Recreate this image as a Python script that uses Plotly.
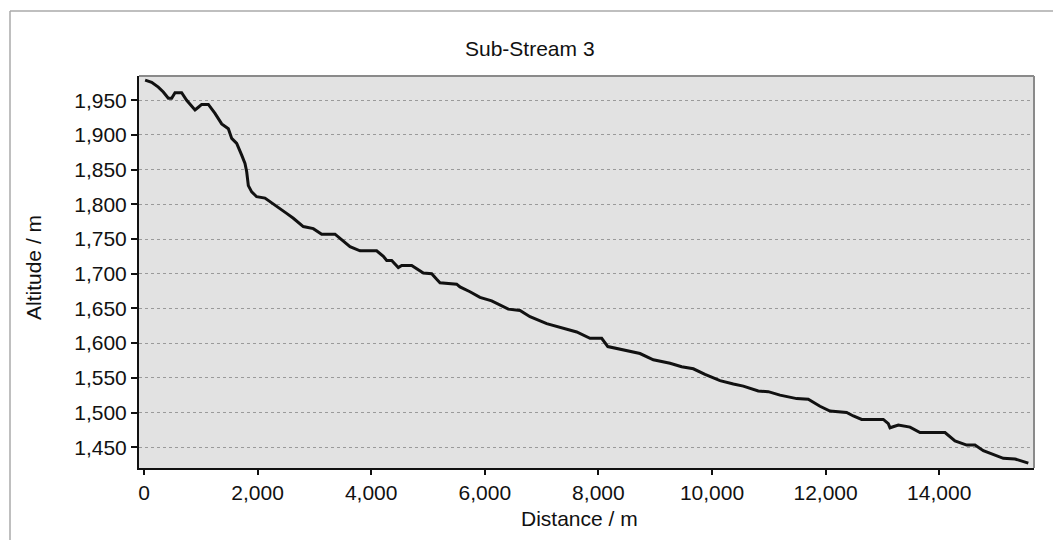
import plotly.graph_objects as go

distance = [20, 135, 252, 340, 428, 487, 546, 663, 751, 898, 957, 1015, 1133, 1250, 1368, 1485,
            1544, 1632, 1720, 1778, 1808, 1837, 1896, 1984, 2130, 2276, 2394, 2511, 2629, 2805,
            2981, 3128, 3363, 3627, 3803, 4096, 4214, 4273, 4361, 4477, 4537, 4713, 4918, 5065,
            5153, 5211, 5505, 5563, 5739, 5915, 6121, 6268, 6414, 6620, 6796, 7090, 7383, 7618,
            7852, 8058, 8166, 8462, 8732, 8967, 9261, 9466, 9671, 9877, 10141, 10376, 10551,
            10815, 10991, 11197, 11491, 11695, 11901, 12077, 12370, 12488, 12635, 13016, 13104,
            13134, 13280, 13486, 13662, 14102, 14278, 14484, 14630, 14777, 14953, 15129, 15335,
            15569]
altitude = [1979, 1976, 1969, 1962, 1953, 1953, 1961, 1961, 1950, 1936, 1940, 1944, 1944, 1931,
            1916, 1909, 1895, 1888, 1871, 1859, 1847, 1827, 1818, 1811, 1809, 1801, 1794, 1787,
            1780, 1768, 1765, 1757, 1757, 1739, 1733, 1733, 1725, 1719, 1719, 1709, 1712, 1712,
            1701, 1700, 1692, 1687, 1685, 1681, 1674, 1666, 1661, 1655, 1649, 1647, 1638, 1628,
            1621, 1616, 1607, 1607, 1595, 1590, 1585, 1576, 1571, 1566, 1563, 1555, 1546, 1541,
            1538, 1531, 1530, 1525, 1520, 1519, 1509, 1502, 1500, 1495, 1490, 1490, 1484, 1478,
            1482, 1479, 1471, 1471, 1459, 1453, 1453, 1445, 1440, 1434, 1433, 1427]

x_ticks = [0, 2000, 4000, 6000, 8000, 10000, 12000, 14000]
y_ticks = [1450, 1500, 1550, 1600, 1650, 1700, 1750, 1800, 1850, 1900, 1950]

title_text = "Sub-Stream 3"
x_title = "Distance / m"
y_title = "Altitude / m"

FONT = "Liberation Sans, Arial, sans-serif"
W, H = 1053, 540
L, R, T, B = 139, 19, 76, 72
pw, ph = W - L - R, H - T - B


def px_x(p):
    return (p - L) / pw


def px_y(p):
    return (H - B - p) / ph


fig = go.Figure()
fig.add_trace(go.Scatter(x=distance, y=altitude, mode="lines",
                         line=dict(color="#111111", width=3), showlegend=False,
                         hoverinfo="x+y"))

fig.update_layout(
    width=W, height=H,
    margin=dict(l=L, r=R, t=T, b=B),
    paper_bgcolor="white",
    plot_bgcolor="#e2e2e2",
    font=dict(family=FONT, size=21, color="#111111"),
    xaxis=dict(range=[-88, 15669], tickvals=x_ticks, tickformat=",",
               showgrid=False, zeroline=False, showline=True, linecolor="#111111",
               linewidth=2, ticks="outside", ticklen=5, tickwidth=2, tickcolor="#111111",
               tickfont=dict(size=21, family=FONT, color="#111111")),
    yaxis=dict(range=[1420, 1985], tickvals=y_ticks, tickformat=",",
               showgrid=True, gridcolor="#9a9a9a", gridwidth=1, griddash="dot",
               zeroline=False, showline=True, linecolor="#111111",
               linewidth=2, ticks="outside", ticklen=6, tickwidth=2, tickcolor="#111111",
               tickfont=dict(size=21, family=FONT, color="#111111")),
    shapes=[
        # outer frame (left and top)
        dict(type="line", xref="paper", yref="paper", x0=px_x(10), x1=px_x(10),
             y0=px_y(11), y1=px_y(545), line=dict(color="#aaaaaa", width=1.5)),
        dict(type="line", xref="paper", yref="paper", x0=px_x(10), x1=px_x(1060),
             y0=px_y(11), y1=px_y(11), line=dict(color="#aaaaaa", width=1.5)),
        # plot area top and right borders
        dict(type="line", xref="paper", yref="paper", x0=0, x1=1, y0=1, y1=1,
             line=dict(color="#8a8a8a", width=2)),
        dict(type="line", xref="paper", yref="paper", x0=1, x1=1, y0=0, y1=1,
             line=dict(color="#8a8a8a", width=2)),
    ],
    annotations=[
        dict(text=title_text, xref="paper", yref="paper", x=px_x(530), y=px_y(48),
             xanchor="center", yanchor="middle", showarrow=False,
             font=dict(size=21, family=FONT, color="#111111")),
        dict(text=x_title, xref="paper", yref="paper", x=px_x(579), y=px_y(518),
             xanchor="center", yanchor="middle", showarrow=False,
             font=dict(size=21, family=FONT, color="#111111")),
        dict(text=y_title, xref="paper", yref="paper", x=px_x(33), y=px_y(268),
             xanchor="center", yanchor="middle", showarrow=False, textangle=-90,
             font=dict(size=21, family=FONT, color="#111111")),
    ],
)

fig.write_html("out.html")
